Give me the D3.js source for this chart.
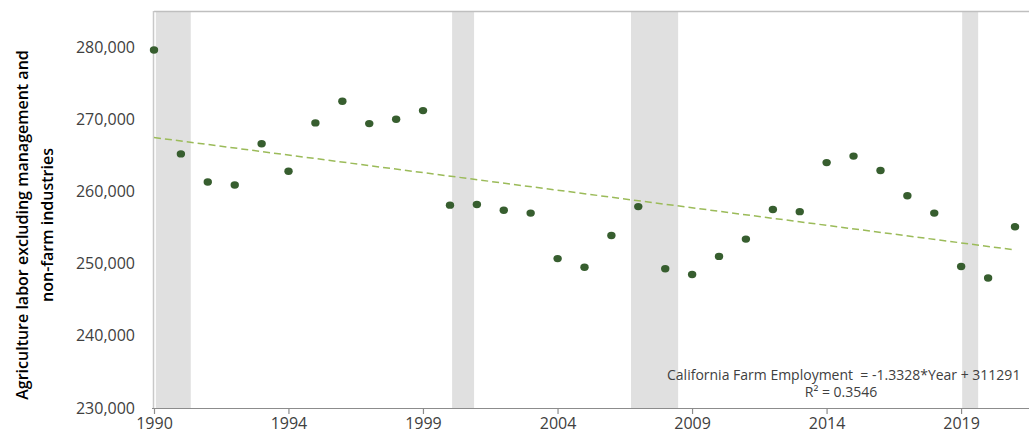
<!DOCTYPE html>
<html>
<head>
<meta charset="utf-8">
<script src="https://cdn.jsdelivr.net/npm/d3@7"></script>
<style>
  html, body { margin: 0; padding: 0; background: #ffffff; overflow: hidden; }
  svg { display: block; font-family: "Open Sans", "Noto Sans", sans-serif; }
</style>
</head>
<body>
<svg id="chart" width="1029" height="437"></svg>
<script>
// California farm employment, one observation per year (Jan 1)
const years = [1990, 1991, 1992, 1993, 1994, 1995, 1996, 1997, 1998, 1999, 2000,
               2001, 2002, 2003, 2004, 2005, 2006, 2007, 2008, 2009, 2010, 2011,
               2012, 2013, 2014, 2015, 2016, 2017, 2018, 2019, 2020, 2021, 2022];
const employment = [279600, 265200, 261300, 260900, 266600, 262800, 269500, 272500,
                    269400, 270000, 271200, 258100, 258200, 257400, 257000, 250700,
                    249500, 253900, 257900, 249300, 248500, 251000, 253400, 257500,
                    257200, 264000, 264900, 262900, 259400, 257000, 249600, 248000,
                    255100];

// Recession periods (shaded bands)
const recessionStarts = ["1990-01-26", "2001-01-30", "2007-09-24", "2020-01-15"];
const recessionEnds   = ["1991-05-15", "2001-11-24", "2009-06-25", "2020-08-19"];

// Axis ticks
const xTickDates = ["1990-01-01", "1994-12-31", "1999-12-31", "2004-12-31",
                    "2009-12-31", "2014-12-31", "2019-12-31"];
const yTicks = [230000, 240000, 250000, 260000, 270000, 280000];

// Linear trend fitted on spreadsheet date serials
const trendSlope = -1.3328;
const trendIntercept = 311291;
const trendLabel = "California Farm Employment  = -1.3328*Year + 311291";
const r2Label = "R\u00B2 = 0.3546";

const yTitleLines = ["Agriculture labor excluding management and", "non-farm industries"];

const parse = d3.utcParse("%Y-%m-%d");
const toDate = yr => new Date(Date.UTC(yr, 0, 1));
const serialOrigin = Date.UTC(1899, 11, 30);
const toSerial = d => (d.getTime() - serialOrigin) / 86400000;

const svg = d3.select("#chart");
const plotLeft = 154, plotTop = 11, plotBottom = 408, plotRight = 1040;

const x = d3.scaleUtc()
  .domain([toDate(1990), toDate(2022)])
  .range([plotLeft, 1015]);

const y = d3.scaleLinear()
  .domain([230000, 285000])
  .range([plotBottom, plotTop]);

// Shaded recession bands
svg.append("g")
  .selectAll("rect")
  .data(recessionStarts.map((s, i) => [parse(s), parse(recessionEnds[i])]))
  .join("rect")
  .attr("x", d => x(d[0]))
  .attr("width", d => x(d[1]) - x(d[0]))
  .attr("y", plotTop)
  .attr("height", plotBottom - plotTop)
  .attr("fill", "#e0e0e0");

// Plot frame: top and left border
svg.append("line")
  .attr("x1", plotLeft).attr("x2", plotRight)
  .attr("y1", plotTop + 0.5).attr("y2", plotTop + 0.5)
  .attr("stroke", "#bfbfbf").attr("stroke-width", 1.5);
svg.append("line")
  .attr("x1", plotLeft - 0.5).attr("x2", plotLeft - 0.5)
  .attr("y1", plotTop).attr("y2", plotBottom)
  .attr("stroke", "#c8c8c8").attr("stroke-width", 1.5);

// Y axis labels
const yAxis = svg.append("g")
  .attr("transform", `translate(${plotLeft},0)`)
  .call(d3.axisLeft(y).tickValues(yTicks).tickSize(0).tickPadding(19)
        .tickFormat(d3.format(",")));
yAxis.select(".domain").remove();
yAxis.selectAll("text")
  .attr("fill", "#404040")
  .style("font-size", "16px")
  .style("font-family", "'Open Sans', sans-serif");

// X axis
const xAxis = svg.append("g")
  .attr("transform", `translate(0,${plotBottom})`)
  .call(d3.axisBottom(x).tickValues(xTickDates.map(parse)).tickSize(6)
        .tickSizeOuter(0).tickPadding(4).tickFormat(d3.utcFormat("%Y")));
xAxis.select(".domain").remove();
xAxis.selectAll(".tick line").attr("stroke", "#8c8c8c").attr("stroke-width", 1.2);
xAxis.selectAll("text")
  .attr("fill", "#404040")
  .style("font-size", "16px")
  .style("font-family", "'Open Sans', sans-serif");
svg.append("line")
  .attr("x1", plotLeft - 2).attr("x2", plotRight)
  .attr("y1", plotBottom + 0.5).attr("y2", plotBottom + 0.5)
  .attr("stroke", "#8c8c8c").attr("stroke-width", 1.2);

// Trend line
const trendDates = [toDate(years[0]), toDate(years[years.length - 1])];
svg.append("line")
  .attr("x1", x(trendDates[0]))
  .attr("y1", y(trendSlope * toSerial(trendDates[0]) + trendIntercept))
  .attr("x2", x(trendDates[1]))
  .attr("y2", y(trendSlope * toSerial(trendDates[1]) + trendIntercept))
  .attr("stroke", "#9bbb59")
  .attr("stroke-width", 1.5)
  .attr("stroke-dasharray", "7,4");

// Data points
svg.append("g")
  .selectAll("ellipse")
  .data(years.map((yr, i) => ({ date: toDate(yr), value: employment[i] })))
  .join("ellipse")
  .attr("cx", d => x(d.date))
  .attr("cy", d => y(d.value))
  .attr("rx", 4.2)
  .attr("ry", 3.7)
  .attr("fill", "#375e2f");

// Trend equation
svg.append("text")
  .attr("x", 667).attr("y", 380)
  .attr("fill", "#404040")
  .style("font-size", "14px")
  .style("white-space", "pre")
  .text(trendLabel);
svg.append("text")
  .attr("x", 841).attr("y", 397)
  .attr("text-anchor", "middle")
  .attr("fill", "#404040")
  .style("font-size", "14px")
  .text(r2Label);

// Y axis title
const title = svg.append("text")
  .attr("transform", "translate(0,225) rotate(-90)")
  .attr("text-anchor", "middle")
  .attr("fill", "#000000")
  .style("font-size", "16px")
  .style("font-weight", "600");
title.selectAll("tspan")
  .data(yTitleLines)
  .join("tspan")
  .attr("x", 0)
  .attr("y", (d, i) => 28 + i * 25)
  .text(d => d);
</script>
</body>
</html>
